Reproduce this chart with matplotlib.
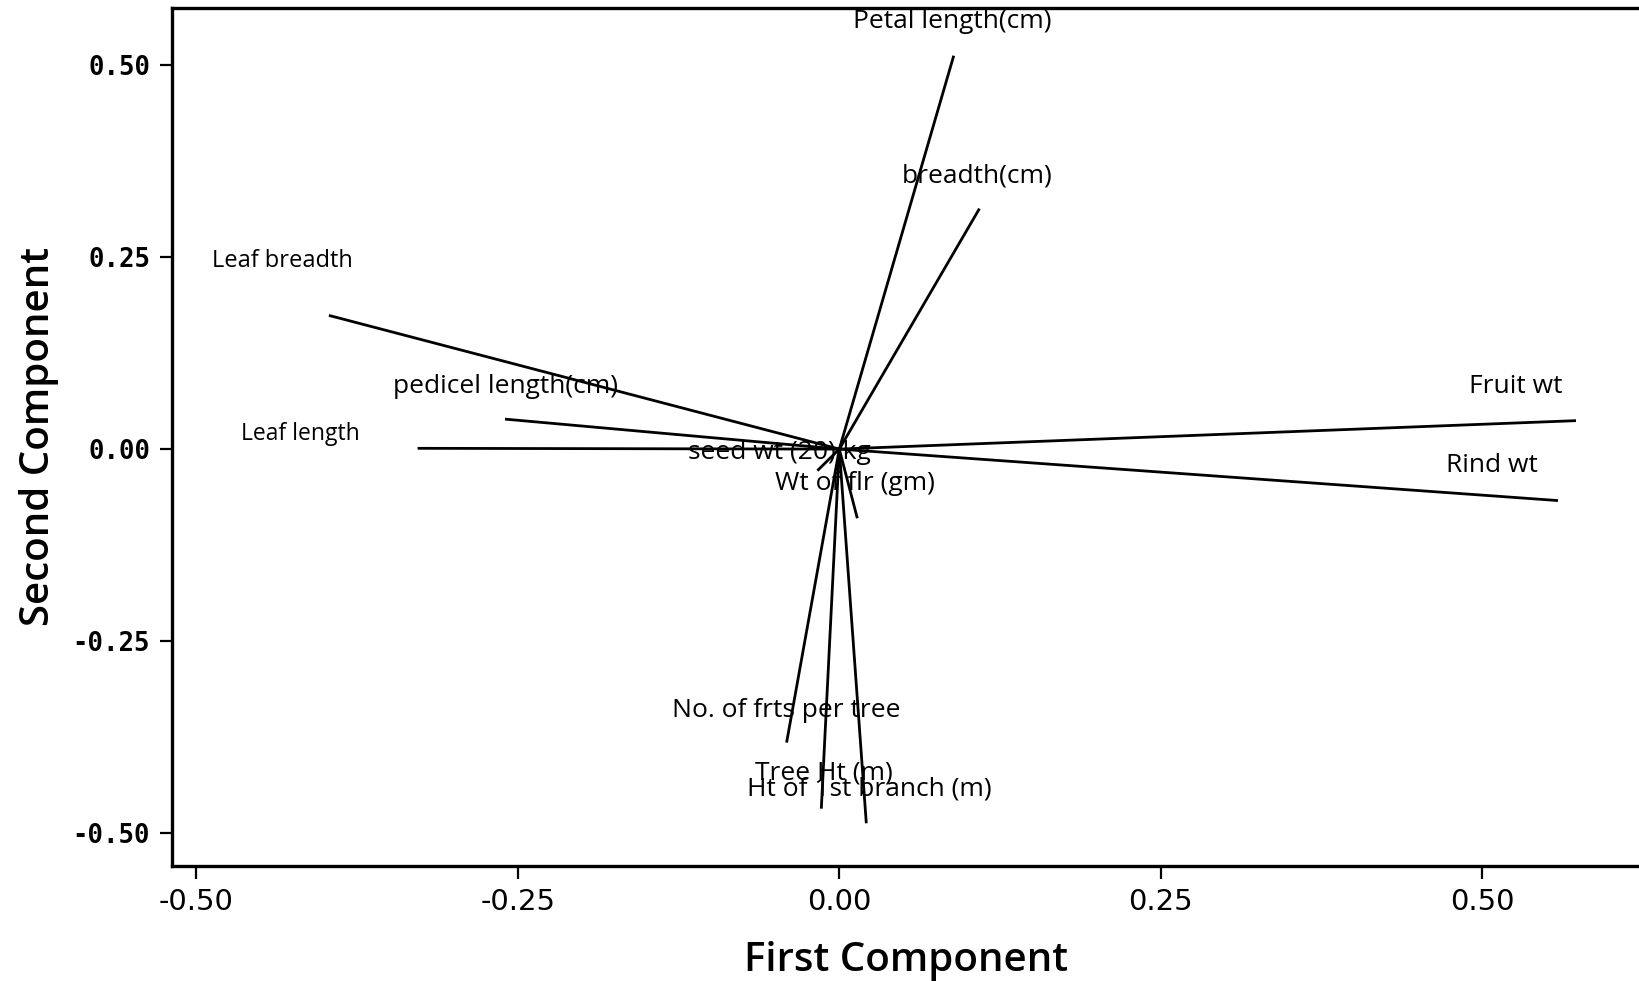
import matplotlib
matplotlib.use("Agg")
import matplotlib.pyplot as plt

# loadings on the first two principal components
traits = [
    "Petal length(cm)", "breadth(cm)", "Leaf breadth", "pedicel length(cm)",
    "Leaf length", "Fruit wt", "Rind wt", "seed wt (20) kg", "Wt of flr (gm)",
    "No. of frts per tree", "Tree Ht (m)", "Ht of 1st branch (m)",
]
pc1 = [0.089, 0.109, -0.397, -0.260, -0.328, 0.573, 0.559, -0.017, 0.014,
       -0.041, -0.014, 0.021]
pc2 = [0.512, 0.313, 0.174, 0.039, 0.001, 0.037, -0.067, -0.028, -0.090,
       -0.382, -0.468, -0.487]

# where each trait name is written (data units)
label_x = [0.088, 0.107, -0.433, -0.260, -0.419, 0.526, 0.508, -0.047, 0.012,
           -0.041, -0.012, 0.023]
label_y = [0.556, 0.355, 0.245, 0.082, 0.019, 0.082, -0.022, -0.005, -0.045,
           -0.340, -0.422, -0.442]
label_size = [19, 19, 17, 19, 16.5, 19, 19, 19, 19, 19, 19, 19]

xticks = [-0.50, -0.25, 0.00, 0.25, 0.50]
yticks = [-0.50, -0.25, 0.00, 0.25, 0.50]

text_font = ["Open Sans", "DejaVu Sans"]

fig = plt.figure(figsize=(16.39, 9.81), dpi=100)
ax = fig.add_axes([0.1052, 0.1177, 0.8948, 0.8737])

for x, y in zip(pc1, pc2):
    ax.plot([0, x], [0, y], color="black", lw=2.0, solid_capstyle="butt")

for name, tx, ty, fs in zip(traits, label_x, label_y, label_size):
    ax.text(tx, ty, name, ha="center", va="center", fontsize=fs,
            family=text_font, color="black")

ax.set_xlim(-0.5187, 0.622)
ax.set_ylim(-0.542, 0.5735)

ax.spines["right"].set_visible(False)
for side in ("left", "bottom", "top"):
    ax.spines[side].set_linewidth(2.4)

ax.set_xticks(xticks)
ax.set_xticklabels([f"{t:.2f}" for t in xticks],
                   family=["Liberation Sans Narrow", "DejaVu Sans"],
                   fontsize=21)
ax.set_yticks(yticks)
ax.set_yticklabels([f"{t:.2f}" for t in yticks],
                   family=["DejaVu Sans Mono"], fontweight="bold",
                   fontsize=18.5)
ax.tick_params(axis="both", direction="out", length=9, width=1.6, pad=7)

ax.set_xlabel("First Component", fontsize=29, family=text_font,
              fontweight="semibold", labelpad=18)
ax.set_ylabel("Second Component", fontsize=29, family=text_font,
              fontweight="semibold", labelpad=10)

fig.savefig("out.png", dpi=100)
